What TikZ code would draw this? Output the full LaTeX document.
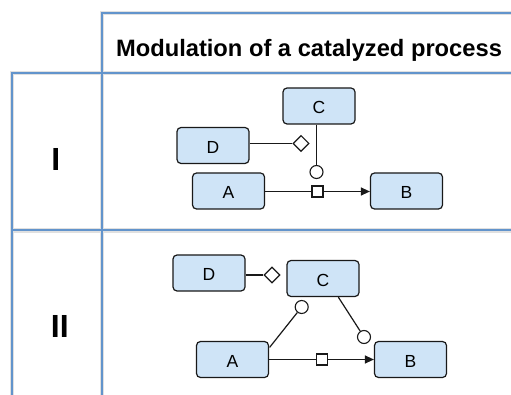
\documentclass[tikz,border=0pt]{standalone}
\usepackage{fontspec}
\setmainfont{Liberation Sans}
\usetikzlibrary{shapes.geometric,arrows.meta,calc}
\definecolor{tabline}{RGB}{98,148,204}
\definecolor{boxblue}{RGB}{207,228,247}
\definecolor{inkline}{RGB}{25,25,25}
\tikzset{
  gridline/.style={draw=tabline, line width=2pt, line cap=rect},
  gridshade/.style={draw=black!12, line width=4.2pt, line cap=rect},
  entity/.style={draw=inkline, fill=boxblue, rounded corners=4pt, line width=1.2pt,
    minimum width=72pt, minimum height=36pt, inner sep=0pt,
    text height=15.5pt, text depth=0pt,
    font=\fontsize{17.5}{20}\selectfont},
  procbox/.style={draw=inkline, fill=white, line width=1.1pt, minimum size=11pt, inner sep=0pt},
  catnode/.style={circle, draw=inkline, fill=white, line width=1.1pt, minimum size=13pt, inner sep=0pt},
  modnode/.style={diamond, draw=inkline, fill=white, line width=1.1pt, minimum size=16pt, inner sep=0pt},
  arc/.style={draw=inkline, line width=1.2pt},
  prodarc/.style={arc, -{Triangle[length=9pt,width=8pt]}},
  rowlabel/.style={font=\fontsize{32}{36}\selectfont\bfseries, anchor=base, inner sep=0pt},
}
\begin{document}
\begin{tikzpicture}[x=1pt,y=-1pt]
\useasboundingbox (0,0) rectangle (511,395);

% table grid
\foreach \s in {gridshade,gridline}{
  \draw[\s] (511,13.3) -- (102.3,13.3) -- (102.3,395);
  \draw[\s] (511,72.7) -- (11.7,72.7) -- (11.7,395);
  \draw[\s] (11.7,230.5) -- (511,230.5);
}

% headers
\node[font=\fontsize{23.7}{28}\selectfont\bfseries, anchor=base, inner sep=0pt] (title) at (309,56.7) {Modulation of a catalyzed process};
\node[rowlabel] (rowI) at (55.8,171) {I};
\node[rowlabel] (rowII) at (59.8,337) {II};

% row I
\node[entity] (C1) at (319,106) {C};
\node[entity] (D1) at (213,145.5) {D};
\node[entity] (A1) at (228.5,191) {A};
\node[entity] (B1) at (406.5,191) {B};
\node[procbox] (p1) at (317.5,191.5) {};
\node[catnode] (k1) at (316.5,172) {};
\node[modnode] (m1) at (301,143.5) {};
\draw[arc] (A1.east |- p1.west) -- (p1.west);
\draw[prodarc] (p1.east) -- (B1.west |- p1.east);
\draw[arc] (k1 |- C1.south) -- (k1.north);
\draw[arc] (m1.west -| D1.east) -- (m1.west);

% row II
\node[entity] (D2) at (209,273) {D};
\node[entity] (C2) at (323,278.5) {C};
\node[entity] (A2) at (232.5,359.5) {A};
\node[entity] (B2) at (410.5,359.5) {B};
\node[procbox] (p2) at (322,359.5) {};
\node[catnode] (k2) at (301.7,307) {};
\node[catnode] (k3) at (364,337) {};
\node[modnode] (m2) at (272,275) {};
\draw[arc] (A2.east |- p2.west) -- (p2.west);
\draw[prodarc] (p2.east) -- (B2.west |- p2.east);
\draw[arc] (m2.west -| D2.east) -- (m2.west);
\draw[arc] ($(A2.north east)+(0.5,6.5)$) -- (k2);
\draw[arc] ($(C2.south)+(15.3,0)$) -- (k3);
\end{tikzpicture}
\end{document}
